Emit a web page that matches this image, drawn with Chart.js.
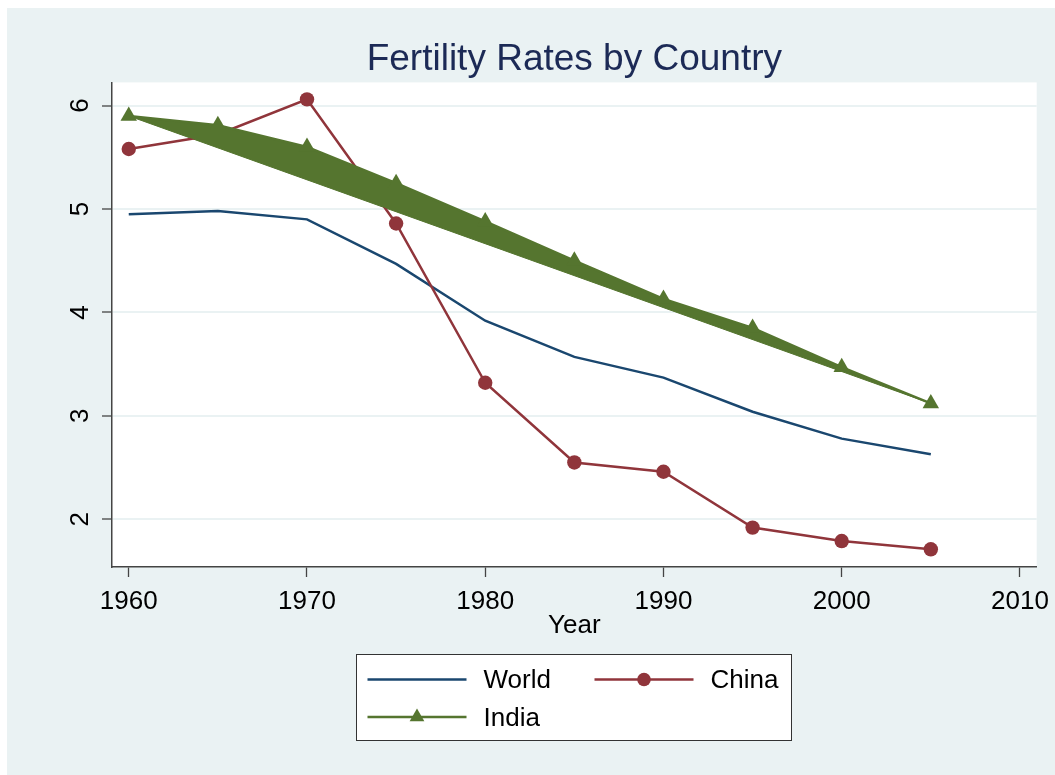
<!DOCTYPE html>
<html>
<head>
<meta charset="utf-8">
<script src="https://cdn.jsdelivr.net/npm/chart.js@4.4.1/dist/chart.umd.min.js"></script>
<style>
  html, body { margin: 0; padding: 0; background: #ffffff; }
  #wrap { width: 1055px; height: 775px; position: relative; }
  canvas { display: block; }
</style>
</head>
<body>
<div id="wrap"><canvas id="c" width="1055" height="775"></canvas></div>
<script>
// ---- data ----
const years = [1960, 1965, 1970, 1975, 1980, 1985, 1990, 1995, 2000, 2005];
const world = [4.95, 4.98, 4.90, 4.47, 3.92, 3.57, 3.37, 3.04, 2.78, 2.63];
const china = [5.58, 5.72, 6.06, 4.86, 3.32, 2.55, 2.46, 1.92, 1.79, 1.71];
const india = [5.90, 5.81, 5.60, 5.25, 4.88, 4.50, 4.13, 3.85, 3.47, 3.12];
const xTicks = [1960, 1970, 1980, 1990, 2000, 2010];
const yTicks = [2, 3, 4, 5, 6];
const seriesNames = ['World', 'China', 'India'];
const titleText = 'Fertility Rates by Country';
const xTitle = 'Year';

// ---- style ----
const FONT = '"Liberation Sans", Arial, Helvetica, sans-serif';
const NAVY = '#1a476f', MAROON = '#90353b', GREEN = '#55752f';
const PANEL = '#eaf2f3', GRID = '#eaf2f3', TITLE_COLOR = '#1c2a56', AXIS = '#444444';

Chart.defaults.font.family = FONT;

const toXY = vals => vals.map((v, i) => ({ x: years[i], y: v }));
const last = years.length - 1;

const background = {
  id: 'stataBackground',
  beforeDraw(chart) {
    const { ctx, chartArea: ca, width, height } = chart;
    ctx.save();
    ctx.fillStyle = '#ffffff';
    ctx.fillRect(0, 0, width, height);
    ctx.fillStyle = PANEL;
    ctx.fillRect(7, 8, width - 7, height - 8);
    ctx.fillStyle = '#ffffff';
    ctx.fillRect(ca.left, ca.top, ca.right - ca.left, ca.bottom - ca.top);
    ctx.restore();
  }
};

function drawMarker(ctx, style, x, y, r, color) {
  ctx.save();
  ctx.fillStyle = color;
  ctx.beginPath();
  if (style === 'circle') {
    ctx.arc(x, y, r, 0, Math.PI * 2);
  } else if (style === 'triangle') {
    let rad = 0;
    ctx.moveTo(x + Math.sin(rad) * r, y - Math.cos(rad) * r);
    rad += 2 * Math.PI / 3;
    ctx.lineTo(x + Math.sin(rad) * r, y - Math.cos(rad) * r);
    rad += 2 * Math.PI / 3;
    ctx.lineTo(x + Math.sin(rad) * r, y - Math.cos(rad) * r);
    ctx.closePath();
  }
  ctx.fill();
  ctx.restore();
}

const stataLegend = {
  id: 'stataLegend',
  afterDraw(chart) {
    const { ctx, chartArea: ca } = chart;
    const w = 436, h = 87;
    const cx = (ca.left + ca.right) / 2;
    const left = Math.round(cx - w / 2), top = 654;
    ctx.save();
    ctx.fillStyle = '#ffffff';
    ctx.fillRect(left, top, w, h);
    ctx.strokeStyle = '#333333';
    ctx.lineWidth = 1;
    ctx.strokeRect(left + 0.5, top + 0.5, w - 1, h - 1);
    const cols = [11.5, 238.5];
    const rows = [25.5, 63];
    const place = [[0, 0], [1, 0], [0, 1]];
    seriesNames.forEach((name, i) => {
      const ds = chart.data.datasets[i];
      const [c, r] = place[i];
      const x0 = left + cols[c], x1 = x0 + 99, y = top + rows[r];
      ctx.strokeStyle = ds.borderColor;
      ctx.lineWidth = 2.5;
      ctx.beginPath();
      ctx.moveTo(x0, y);
      ctx.lineTo(x1, y);
      ctx.stroke();
      if (ds.pointRadius > 0) {
        drawMarker(ctx, ds.pointStyle, (x0 + x1) / 2, y, ds.pointStyle === 'triangle' ? 8.5 : 6.8, ds.borderColor);
      }
      ctx.fillStyle = '#000000';
      ctx.font = '26px ' + FONT;
      ctx.textBaseline = 'middle';
      ctx.textAlign = 'left';
      ctx.fillText(name, x1 + 17, y + 1.5);
    });
    ctx.restore();
  }
};

new Chart(document.getElementById('c'), {
  type: 'line',
  data: {
    datasets: [
      { label: seriesNames[0], data: toXY(world), borderColor: NAVY, backgroundColor: NAVY,
        borderWidth: 2.5, pointRadius: 0, fill: false, order: 2 },
      { label: seriesNames[1], data: toXY(china), borderColor: MAROON, backgroundColor: MAROON,
        borderWidth: 2.5, pointStyle: 'circle', pointRadius: 7.2, pointBorderWidth: 0, fill: false, order: 1 },
      { label: seriesNames[2], data: toXY(india), borderColor: GREEN, backgroundColor: GREEN,
        borderWidth: 2.5, pointStyle: 'triangle', pointRadius: 9.5, pointBorderWidth: 0, fill: 3, order: 0 },
      { label: 'closure', data: [{ x: years[0], y: india[0] }, { x: years[last], y: india[last] }],
        borderColor: GREEN, backgroundColor: GREEN, borderWidth: 1, pointRadius: 0, fill: false, order: 3 }
    ]
  },
  options: {
    responsive: false,
    animation: false,
    events: [],
    devicePixelRatio: 1,
    layout: { padding: { left: 0, right: 18.3, top: 0, bottom: 128 } },
    scales: {
      x: {
        type: 'linear', min: 1959.06, max: 2010.94,
        afterBuildTicks: s => { s.ticks = xTicks.map(v => ({ value: v })); },
        afterFit: s => { s.height = 80; s.paddingLeft = 0; s.paddingRight = 0; },
        grid: { drawOnChartArea: false, drawTicks: true, tickLength: 10, tickColor: AXIS, tickWidth: 1.3 },
        border: { display: true, color: AXIS, width: 1.5 },
        ticks: { font: { size: 26 }, color: '#000', padding: 9, maxRotation: 0, minRotation: 0, autoSkip: false,
                 callback: v => String(v) },
        title: { display: true, text: xTitle, font: { size: 26 }, color: '#000', padding: { top: 0, bottom: 5.4 } }
      },
      y: {
        type: 'linear', min: 1.539, max: 6.224,
        afterBuildTicks: s => { s.ticks = yTicks.map(v => ({ value: v })); },
        afterFit: s => { s.width = 112; s.paddingTop = 0; s.paddingBottom = 0; },
        grid: { color: GRID, lineWidth: 2, drawTicks: true, tickLength: 10, tickColor: AXIS, tickWidth: 1.3 },
        border: { display: true, color: AXIS, width: 1.5 },
        ticks: { font: { size: 26 }, color: '#000', padding: 14, minRotation: 90, maxRotation: 90,
                 crossAlign: 'center', autoSkip: false, callback: v => String(v) }
      }
    },
    plugins: {
      legend: { display: false },
      tooltip: { enabled: false },
      title: { display: true, text: titleText, fullSize: false, color: TITLE_COLOR,
               font: { size: 37, weight: 'normal' }, padding: { top: 38, bottom: 0 } },
      filler: { propagate: false }
    }
  },
  plugins: [background, stataLegend]
});
</script>
</body>
</html>
